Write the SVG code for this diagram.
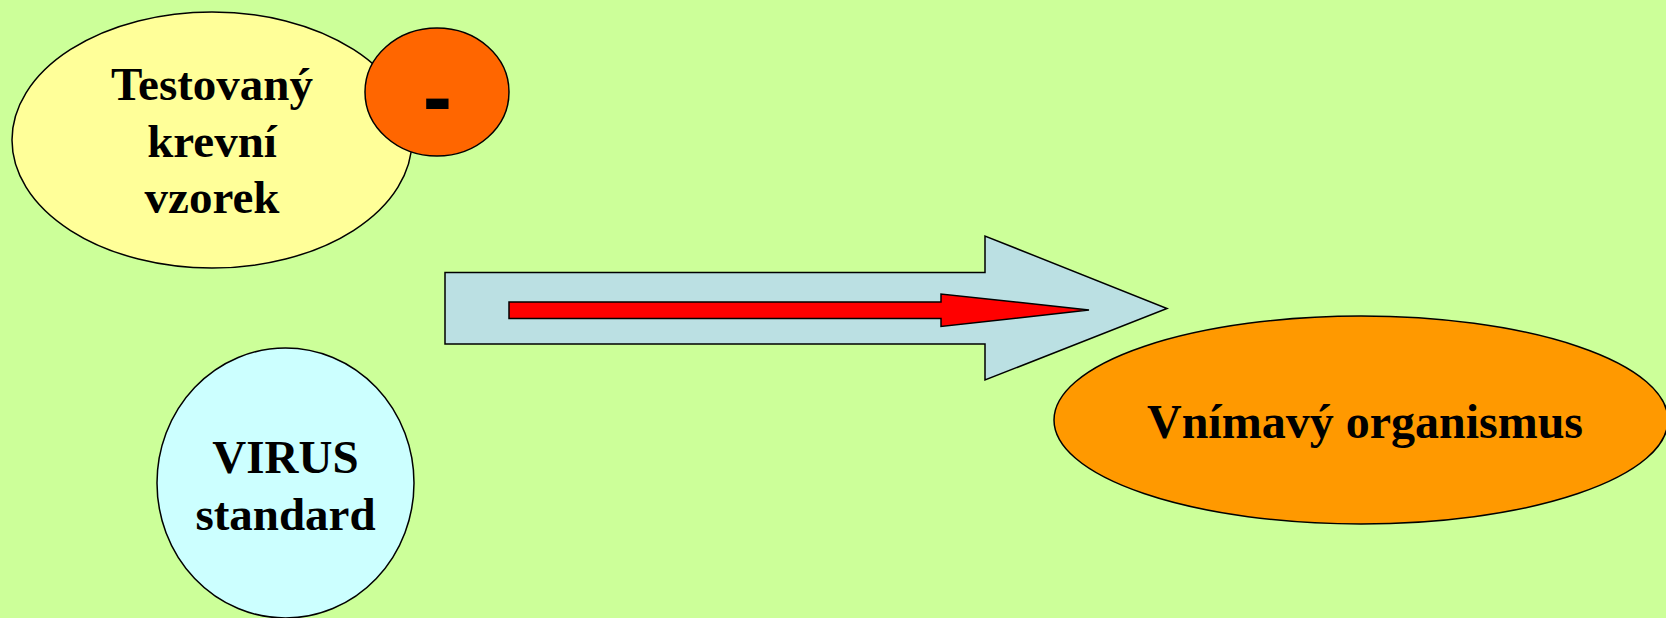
<svg xmlns="http://www.w3.org/2000/svg" width="1666" height="618" viewBox="0 0 1666 618">
<style>
.s{stroke:#000;stroke-width:1.5}
.t{font-family:"Liberation Serif","Times New Roman",serif;font-weight:bold;font-size:47px;fill:#000;text-anchor:middle}
</style>
<rect width="1666" height="618" fill="#CCFF99"/>
<g id="sample">
<ellipse class="s" cx="212" cy="140" rx="200" ry="128" fill="#FFFF99"/>
<text class="t" x="212" y="100">Testovaný</text>
<text class="t" x="212" y="157">krevní</text>
<text class="t" x="212" y="213">vzorek</text>
</g>
<g id="minus">
<ellipse class="s" cx="437" cy="92" rx="72" ry="64" fill="#FF6600"/>
<text x="437.5" y="126" font-family="Liberation Sans, Arial, sans-serif" font-weight="bold" font-size="88" text-anchor="middle" fill="#000">-</text>
</g>
<g id="virus">
<ellipse class="s" cx="285.5" cy="483" rx="128.5" ry="135" fill="#CCFFFF"/>
<text class="t" x="285.5" y="473">VIRUS</text>
<text class="t" x="285.5" y="530">standard</text>
</g>
<g id="connectors">
<polygon class="s" points="445,272.5 985,272.5 985,236 1167,308.5 985,380 985,344 445,344" fill="#BBE0E3"/>
<polygon class="s" points="509,302 941,302 941,294 1089,310 941,326.5 941,318.5 509,318.5" fill="#FF0000"/>
</g>
<g id="organism">
<ellipse class="s" cx="1361" cy="420" rx="307" ry="104" fill="#FF9900"/>
<text class="t" x="1365" y="438" style="font-size:48px">Vnímavý organismus</text>
</g>
</svg>
